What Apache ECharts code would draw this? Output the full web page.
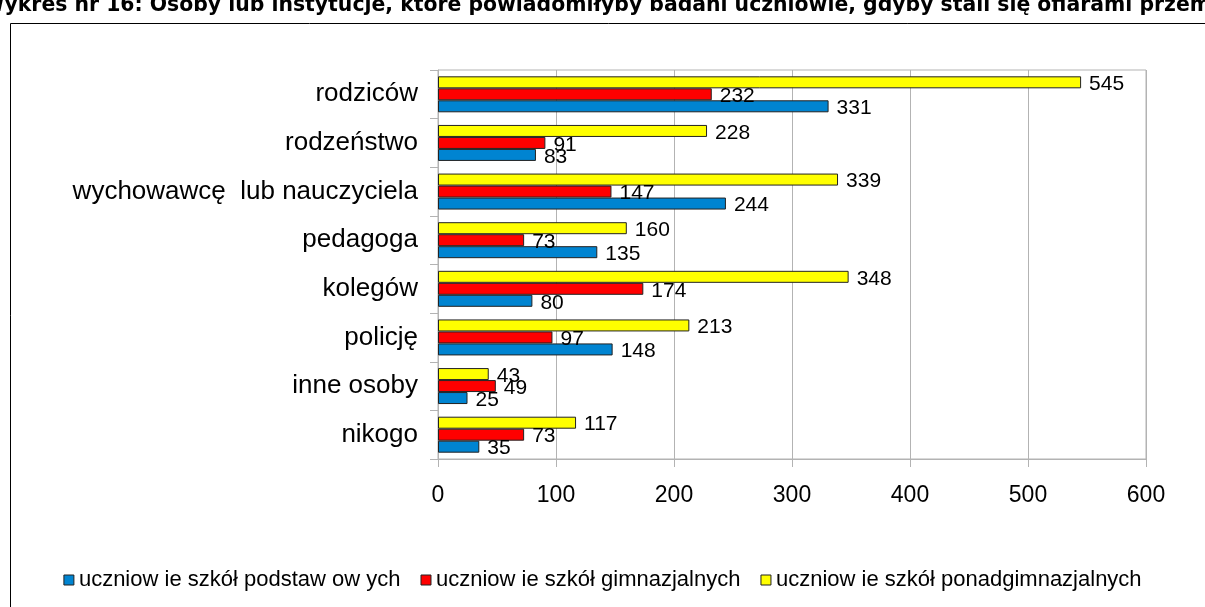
<!DOCTYPE html>
<html>
<head>
    <meta charset="UTF-8">
    <title>Wykres nr 16</title>
    <style>
        html, body { margin: 0; padding: 0; background: #fff; }
        #main { width: 1205px; height: 607px; }
    </style>
</head>
<body>
    <div id="main"></div>
    <script src="https://cdn.jsdelivr.net/npm/echarts@6/dist/echarts.min.js"></script>
    <script>
        // dane z wykresu
        var categories = ['rodziców', 'rodzeństwo', 'wychowawcę  lub nauczyciela', 'pedagoga', 'kolegów', 'policję', 'inne osoby', 'nikogo'];
        var podstawowe = [331, 83, 244, 135, 80, 148, 25, 35];
        var gimnazjalne = [232, 91, 147, 73, 174, 97, 49, 73];
        var ponadgimnazjalne = [545, 228, 339, 160, 348, 213, 43, 117];
        var seriesNames = ['uczniow ie szkół podstaw ow ych', 'uczniow ie szkół gimnazjalnych', 'uczniow ie szkół ponadgimnazjalnych'];
        var titleText = 'Wykres nr 16: Osoby lub instytucje, które powiadomiłyby badani uczniowie, gdyby stali się ofiarami przemocy';

        var font = '"Liberation Sans", Arial, sans-serif';
        var gray = '#b3b3b3';

        function makeSeries(name, data, color) {
            return {
                name: name,
                type: 'bar',
                data: data,
                barGap: '0%',
                barCategoryGap: '26%',
                itemStyle: {color: color, borderColor: '#222', borderWidth: 1},
                label: {
                    show: true,
                    position: 'right',
                    distance: 8,
                    offset: [0, 2],
                    color: '#000',
                    fontFamily: font,
                    fontSize: 21
                },
                emphasis: {disabled: true}
            };
        }

        var app = echarts.init(document.getElementById('main'));
        var option = {
            animation: false,
            graphic: [
                {
                    type: 'rect',
                    shape: {x: 10.5, y: 23.5, width: 1300, height: 700},
                    style: {fill: 'none', stroke: '#000', lineWidth: 1},
                    silent: true
                },
                {
                    // tytuł ucięty u góry, jak na oryginale
                    type: 'text',
                    x: -18,
                    y: 16,
                    style: {
                        text: titleText,
                        fontFamily: '"DejaVu Sans", sans-serif',
                        fontWeight: 'bold',
                        fontSize: 20.4,
                        fill: '#000',
                        verticalAlign: 'bottom'
                    },
                    silent: true
                }
            ],
            legend: {
                data: seriesNames,
                left: 'center',
                top: 564,
                itemWidth: 10,
                itemHeight: 10,
                itemGap: 20,
                icon: 'rect',
                itemStyle: {borderColor: '#222', borderWidth: 1},
                textStyle: {fontFamily: font, fontSize: 22, color: '#000'},
                selectedMode: false
            },
            grid: {
                left: 438,
                right: 59,
                top: 70,
                bottom: 148,
                show: true,
                borderColor: gray,
                borderWidth: 1,
                containLabel: false
            },
            xAxis: {
                type: 'value',
                min: 0,
                max: 600,
                interval: 100,
                axisLine: {show: true, lineStyle: {color: gray}},
                axisTick: {show: true, length: 8, lineStyle: {color: gray}},
                splitLine: {show: true, lineStyle: {color: gray}},
                axisLabel: {fontFamily: font, fontSize: 23, color: '#000', margin: 25}
            },
            yAxis: {
                type: 'category',
                data: categories,
                inverse: true,
                axisLine: {show: true, lineStyle: {color: gray}},
                axisTick: {show: true, length: 8, lineStyle: {color: gray}},
                axisLabel: {fontFamily: font, fontSize: 26, color: '#000', margin: 20}
            },
            series: [
                makeSeries(seriesNames[2], ponadgimnazjalne, '#ffff00'),
                makeSeries(seriesNames[1], gimnazjalne, '#ff0000'),
                makeSeries(seriesNames[0], podstawowe, '#0084d1')
            ]
        };
        app.setOption(option);
        window.addEventListener('resize', function () {
            app.resize();
        });
    </script>
</body>
</html>
